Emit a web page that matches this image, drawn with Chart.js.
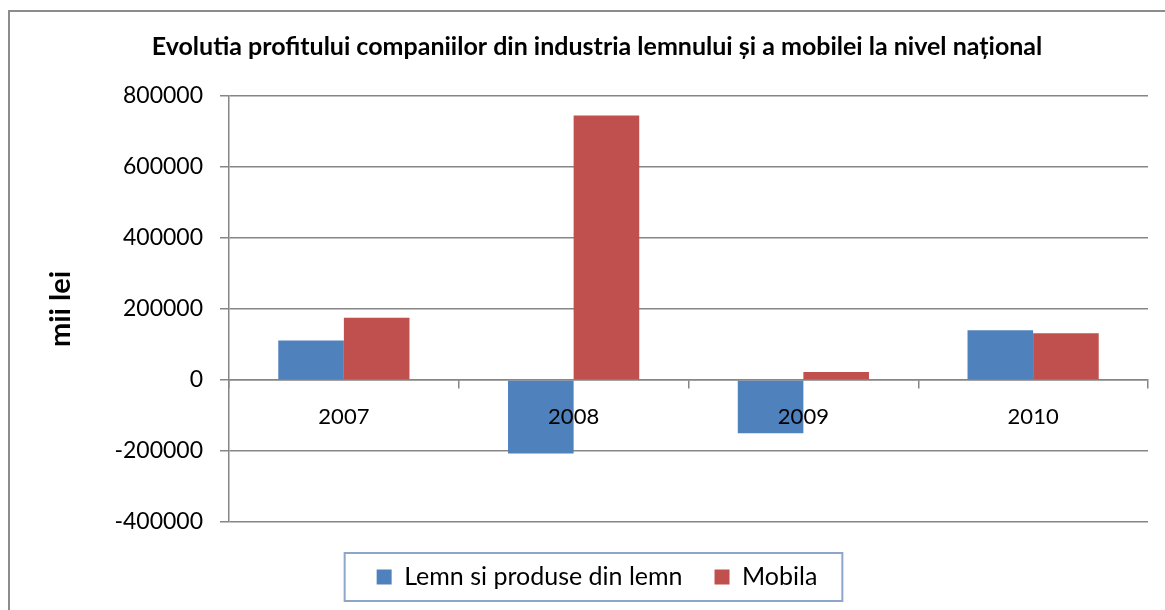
<!DOCTYPE html>
<html>
<head>
<meta charset="utf-8">
<script src="https://cdn.jsdelivr.net/npm/chart.js@4.4.0/dist/chart.umd.min.js"></script>
<style>
  html, body { margin: 0; padding: 0; background: #fff; }
  #wrap { position: relative; width: 1165px; height: 610px; overflow: hidden; }
  #frame { position: absolute; left: 8px; top: 10px; width: 1200px; height: 700px;
           border-left: 2px solid #8c8c8c; border-top: 2px solid #8c8c8c; }
  canvas { position: absolute; left: 0; top: 0; }
</style>
</head>
<body>
<div id="wrap">
  <div id="frame"></div>
  <canvas id="profitChart" width="1165" height="610"></canvas>
</div>
<script>
// values (mii lei)
const years = ['2007', '2008', '2009', '2010'];
const lemnData = [111000, -207000, -150000, 140000];
const mobilaData = [175500, 745000, 22500, 132000];
const yTicks = [-400000, -200000, 0, 200000, 400000, 600000, 800000];

const gridGray = '#868686';

// border round the legend, like the Excel one
const legendFrame = {
    id: 'legendFrame',
    afterDraw(chart) {
        const boxes = chart.legend && chart.legend.legendHitBoxes;
        if (!boxes || !boxes.length) return;
        const first = boxes[0];
        const last = boxes[boxes.length - 1];
        const x1 = first.left - 32;
        const x2 = last.left + last.width + 25;
        const cy = first.top + first.height / 2;
        const c = chart.ctx;
        c.save();
        c.strokeStyle = '#8ea6cc';
        c.lineWidth = 2;
        c.strokeRect(x1, cy - 24, x2 - x1, 48);
        c.restore();
    }
};

const ctx = document.getElementById('profitChart').getContext('2d');

new Chart(ctx, {
    type: 'bar',
    data: {
        labels: years,
        datasets: [
            {
                label: 'Lemn si produse din lemn',
                data: lemnData,
                backgroundColor: '#4f81bd',
                borderWidth: 0
            },
            {
                label: 'Mobila',
                data: mobilaData,
                backgroundColor: '#c0504d',
                borderWidth: 0
            }
        ]
    },
    options: {
        responsive: false,
        animation: false,
        devicePixelRatio: 1,
        categoryPercentage: 0.571,
        barPercentage: 1,
        layout: {
            padding: { left: 46, right: 17, top: 0, bottom: 10.5 }
        },
        plugins: {
            title: {
                display: true,
                text: 'Evolutia profitului companiilor din industria lemnului și a mobilei la nivel național',
                color: '#000',
                font: { family: 'Lato', size: 25, weight: 'bold' },
                padding: { top: 32, bottom: 34 }
            },
            legend: {
                position: 'bottom',
                title: { display: true, text: ' ', font: { size: 1 }, padding: { top: 9.3, bottom: 0 } },
                labels: {
                    color: '#000',
                    boxWidth: 15,
                    boxHeight: 15,
                    padding: 32,
                    font: { family: 'Lato', size: 25 }
                }
            },
            tooltip: { enabled: false }
        },
        scales: {
            x: {
                position: { y: 0 },
                grid: {
                    offset: true,
                    drawOnChartArea: false,
                    drawTicks: true,
                    tickLength: 8,
                    color: gridGray,
                    lineWidth: 1.5
                },
                border: { display: true, color: gridGray, width: 1.5 },
                ticks: {
                    z: 1, // year labels on top of the bars
                    color: '#000',
                    font: { family: 'Lato', size: 22 },
                    padding: 16
                }
            },
            y: {
                min: -400000,
                max: 800000,
                afterBuildTicks: (scale) => {
                    scale.ticks = yTicks.map(v => ({ value: v }));
                },
                afterFit: (scale) => {
                    scale.width = 183;
                },
                border: { display: true, color: gridGray, width: 1.5 },
                grid: { color: gridGray, lineWidth: 1.5, tickLength: 9 },
                ticks: {
                    color: '#000',
                    font: { family: 'Lato', size: 23 },
                    padding: 17,
                    callback: (v) => String(v)
                },
                title: {
                    display: true,
                    text: 'mii lei',
                    color: '#000',
                    font: { family: 'Lato', size: 29, weight: 'bold', lineHeight: 1 },
                    padding: { top: 0, bottom: 0 }
                }
            }
        }
    },
    plugins: [legendFrame]
});
</script>
</body>
</html>
